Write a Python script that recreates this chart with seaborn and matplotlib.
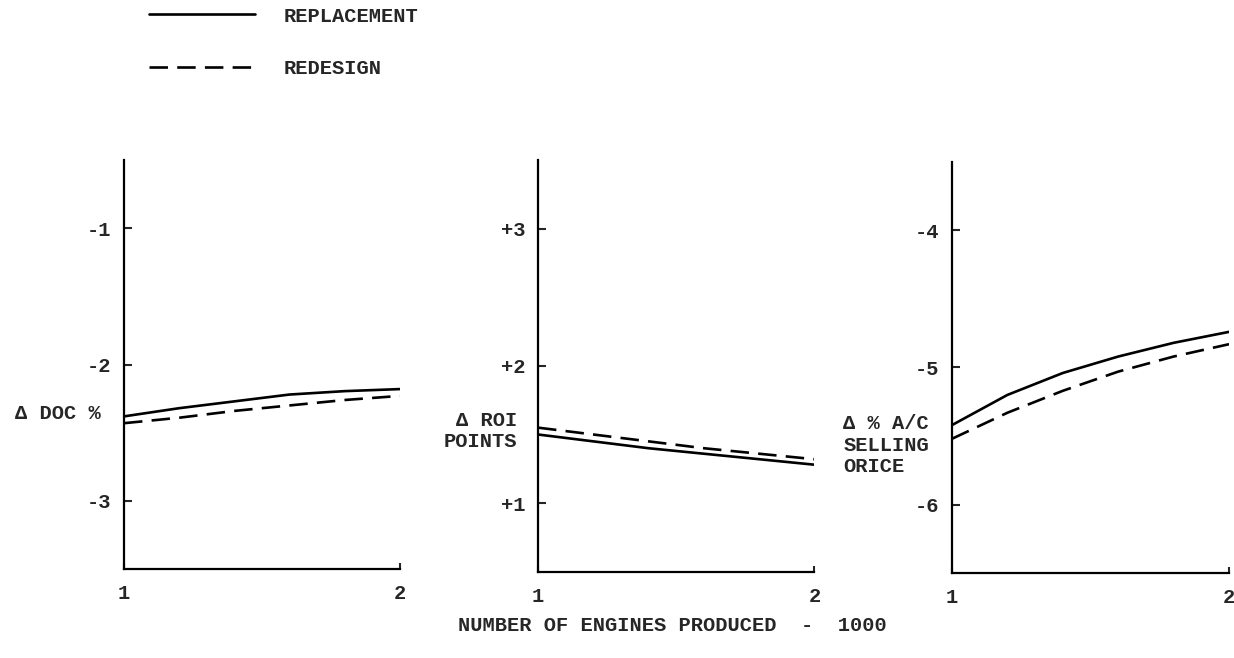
import matplotlib
matplotlib.use("Agg")
import matplotlib.pyplot as plt
import seaborn as sns
import pandas as pd

# Dados
engines = [1.0, 1.2, 1.4, 1.6, 1.8, 2.0]
series_names = ["REPLACEMENT", "REDESIGN"]

doc_replacement = [-2.38, -2.32, -2.27, -2.22, -2.195, -2.18]
doc_redesign = [-2.43, -2.39, -2.34, -2.30, -2.26, -2.23]

roi_replacement = [1.50, 1.45, 1.40, 1.36, 1.32, 1.28]
roi_redesign = [1.55, 1.50, 1.45, 1.40, 1.36, 1.32]

price_replacement = [-5.42, -5.20, -5.04, -4.92, -4.82, -4.74]
price_redesign = [-5.52, -5.33, -5.17, -5.03, -4.92, -4.83]

doc_ticks = [-1, -2, -3]
doc_tick_labels = ["-1", "-2", "-3"]
roi_ticks = [1, 2, 3]
roi_tick_labels = ["+1", "+2", "+3"]
price_ticks = [-4, -5, -6]
price_tick_labels = ["-4", "-5", "-6"]
x_ticks = [1, 2]
x_tick_labels = ["1", "2"]

sns.set_style("ticks")
plt.rcParams['font.family'] = ['Liberation Mono', 'DejaVu Sans Mono']
plt.rcParams['font.weight'] = 'bold'
plt.rcParams['xtick.direction'] = 'in'
plt.rcParams['ytick.direction'] = 'in'

TAM = 14.7


def montar_df(replacement, redesign):
    return pd.DataFrame({
        "x": engines * 2,
        "y": replacement + redesign,
        "serie": [series_names[0]] * len(engines) + [series_names[1]] * len(engines),
    })


fig = plt.figure(figsize=(12.34, 6.58), dpi=100)
paineis = [
    (fig.add_axes([0.1005, 0.135, 0.2235, 0.622]), montar_df(doc_replacement, doc_redesign),
     (-3.5, -0.5), doc_ticks, doc_tick_labels,
     "\u0394 DOC %", (-0.395, 0.381), "left"),
    (fig.add_axes([0.436, 0.131, 0.224, 0.626]), montar_df(roi_replacement, roi_redesign),
     (0.5, 3.5), roi_ticks, roi_tick_labels,
     "\u0394 ROI\nPOINTS", (-0.076, 0.342), "right"),
    (fig.add_axes([0.7715, 0.129, 0.2245, 0.625]), montar_df(price_replacement, price_redesign),
     (-6.5, -3.5), price_ticks, price_tick_labels,
     "\u0394 % A/C\nSELLING\nORICE", (-0.393, 0.311), "left"),
]

for ax, df, ylim, yt, ytl, rotulo, pos, alin in paineis:
    sns.lineplot(data=df, x="x", y="y", style="serie", ax=ax, color="black",
                 linewidth=1.9, dashes={"REPLACEMENT": "", "REDESIGN": (7, 3.5)},
                 legend=(ax is paineis[0][0]))
    ax.set_xlim(1, 2)
    ax.set_ylim(*ylim)
    ax.set_yticks(yt)
    ax.set_yticklabels(ytl)
    ax.set_xticks(x_ticks)
    ax.set_xticklabels(x_tick_labels)
    ax.tick_params(axis="y", direction="in", length=6, width=1.5, pad=9, labelsize=TAM)
    ax.tick_params(axis="x", direction="in", length=4, width=1.5, pad=11, labelsize=TAM)
    for s in ["top", "right"]:
        ax.spines[s].set_visible(False)
    for s in ["left", "bottom"]:
        ax.spines[s].set_linewidth(1.6)
        ax.spines[s].set_color("black")
    ax.set_xlabel("")
    ax.set_ylabel("")
    ax.text(pos[0], pos[1], rotulo, transform=ax.transAxes, ha=alin, va="center",
            multialignment=alin, fontsize=TAM, linespacing=1.15)

# Legenda
ax0 = paineis[0][0]
handles, labels = ax0.get_legend_handles_labels()
ax0.get_legend().remove()
fig.legend(handles, labels, loc="upper left", bbox_to_anchor=(0.106, 1.018),
           frameon=False, fontsize=TAM, handlelength=5.2, handletextpad=1.4,
           labelspacing=1.65)

fig.text(0.545, 0.05, "NUMBER OF ENGINES PRODUCED  -  1000", ha="center", va="center",
         fontsize=TAM)

plt.savefig("out.png", dpi=100)
